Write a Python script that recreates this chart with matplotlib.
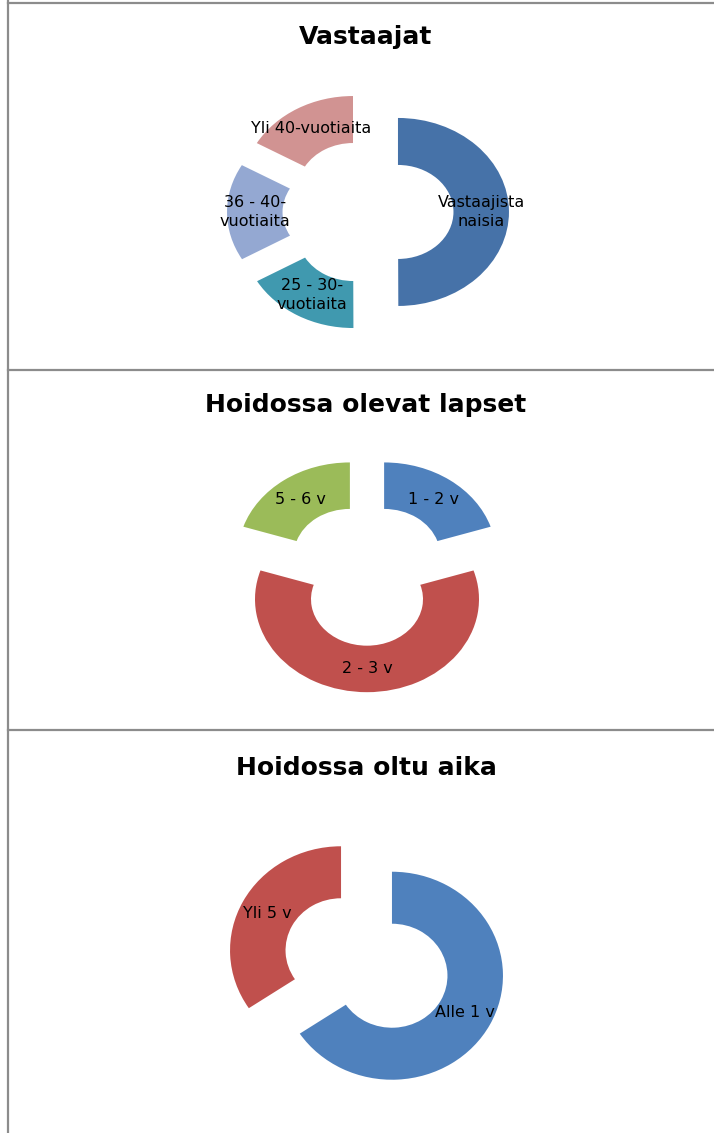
import matplotlib
matplotlib.use("Agg")
import matplotlib.pyplot as plt
from matplotlib.lines import Line2D

W, H = 714, 1133

# Vastaajat
resp_labels = ["Vastaajista\nnaisia", "25 - 30-\nvuotiaita", "36 - 40-\nvuotiaita", "Yli 40-vuotiaita"]
resp_values = [50.0, 16.7, 16.7, 16.7]
resp_colors = ["#4672A8", "#4099AF", "#94A8D2", "#D19392"]

# Hoidossa olevat lapset
kids_labels = ["1 - 2 v", "2 - 3 v", "5 - 6 v"]
kids_values = [20, 60, 20]
kids_colors = ["#4F81BD", "#C0504D", "#9BBB59"]

# Hoidossa oltu aika
time_labels = ["Alle 1 v", "Yli 5 v"]
time_values = [65.6, 34.4]
time_colors = ["#4F81BD", "#C0504D"]

plt.rcParams.update({"font.family": "DejaVu Sans"})

fig = plt.figure(figsize=(W / 100, H / 100), dpi=100)
fig.patch.set_facecolor("white")


def donut(title, labels, values, colors, top, bottom, cx, cy, rx, ry, title_y, explode=0.26):
    # one panel: axes covers the panel box, limits chosen so the ring lands
    # on (cx, cy) px with radii rx / ry px (the original is a bit stretched)
    ax = fig.add_axes([0, 1 - bottom / H, 1, (bottom - top) / H])
    wedges, texts = ax.pie(values, labels=labels, colors=colors,
                           startangle=90, counterclock=False,
                           explode=[explode] * len(values), labeldistance=0.75,
                           wedgeprops=dict(width=0.5, linewidth=0),
                           textprops=dict(fontsize=11.5, color="black"))
    for t in texts:
        t.set_ha("center")
        t.set_va("center")
        t.set_multialignment("center")
        t.set_linespacing(1.3)
    ax.set_aspect("auto")
    ax.set_xlim((0 - cx) / rx, (W - cx) / rx)
    ax.set_ylim((cy - bottom) / ry, (cy - top) / ry)
    ax.axis("off")
    fig.text(366 / W, 1 - title_y / H, title, ha="center", va="baseline",
             fontsize=18, fontweight="bold", color="black")


donut("Vastaajat", resp_labels, resp_values, resp_colors,
      3, 370, 368, 212, 111, 94, 44, explode=0.27)
donut("Hoidossa olevat lapset", kids_labels, kids_values, kids_colors,
      370, 730, 367, 575, 112, 93, 412)
donut("Hoidossa oltu aika", time_labels, time_values, time_colors,
      730, H, 366.5, 963, 111, 104, 775)

# table borders
border = dict(transform=fig.transFigure, color="#8C8C8C", linewidth=1.6)
fig.add_artist(Line2D([8 / W, 8 / W], [0, 1 - 1 / H], **border))
for yl in (3, 370, 730):
    fig.add_artist(Line2D([8 / W, 1], [1 - yl / H, 1 - yl / H], **border))

fig.savefig("out.png", dpi=100, facecolor="white")
